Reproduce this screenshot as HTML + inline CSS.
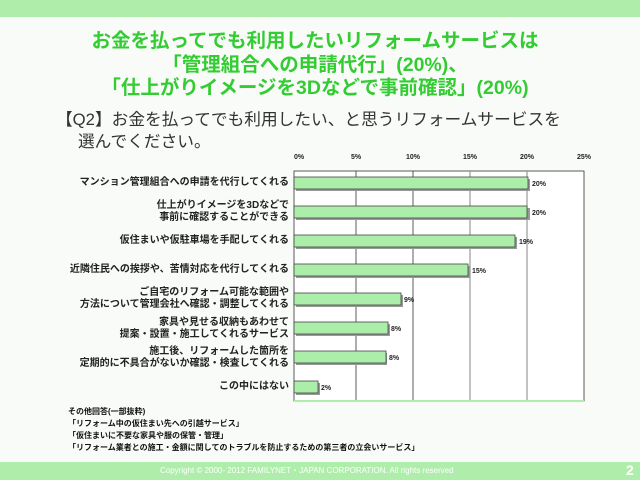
<!DOCTYPE html>
<html><head><meta charset="utf-8"><style>
body{margin:0;width:640px;height:480px;background:#f8fbf7;position:relative;overflow:hidden;font-family:"Liberation Sans","Noto Sans CJK JP",sans-serif}
.band{position:absolute;left:0;width:640px;background:#aeeeaa}
.t{position:absolute;white-space:nowrap}
.title{left:0;width:630px;text-align:center;color:#33cc33;font-size:19.5px;font-weight:bold;line-height:24px}
.lab{right:351px;text-align:right;font-size:10px;font-weight:bold;color:#222;line-height:12px}
.note{left:68px;font-size:8px;color:#111;font-weight:bold}
</style></head><body>
<div class="band" style="top:0;height:17px"></div>
<div class="band" style="top:462px;height:18px"></div>
<div class="t" style="left:160px;top:465px;font-size:8px;color:#fff">Copyright © 2000- 2012 FAMILYNET・JAPAN CORPORATION. All rights reserved</div>
<div class="t" style="left:626px;top:462px;font-size:14px;color:#fff;font-weight:bold">2</div>
<div class="t title" style="top:29px">お金を払ってでも利用したいリフォームサービスは</div>
<div class="t title" style="top:53px">「管理組合への申請代行」(20%)、</div>
<div class="t title" style="top:76px">「仕上がりイメージを3Dなどで事前確認」(20%)</div>
<div class="t" style="left:56px;top:106px;font-size:16.7px;color:#333">【Q2】お金を払ってでも利用したい、と思うリフォームサービスを</div>
<div class="t" style="left:78px;top:128px;font-size:16.7px;color:#333">選んでください。</div>
<svg width="640" height="480" style="position:absolute;left:0;top:0">
<g font-size="7" fill="#222" font-family="Liberation Sans" text-anchor="middle" font-weight="bold">
<text x="299" y="159">0%</text><text x="356" y="159">5%</text><text x="413" y="159">10%</text><text x="470" y="159">15%</text><text x="527" y="159">20%</text><text x="584" y="159">25%</text></g>
<rect x="294" y="171" width="290" height="230" fill="#fff" stroke="#333" stroke-width="0.8"/>
<g stroke="#333" stroke-width="0.8"><line x1="356" y1="171" x2="356" y2="401"/><line x1="413" y1="171" x2="413" y2="401"/></g>
<g stroke="#999" stroke-width="1.2"><line x1="470" y1="171" x2="470" y2="401"/><line x1="527" y1="171" x2="527" y2="401"/></g>
<line x1="294" y1="401" x2="584" y2="401" stroke="#aeeeaa" stroke-width="2"/>
<g fill="#999">
<rect x="296" y="179" width="234" height="12"/><rect x="296" y="208" width="234" height="12"/><rect x="296" y="237" width="221" height="12"/><rect x="296" y="266" width="174" height="12"/><rect x="296" y="295" width="107" height="12"/><rect x="296" y="324" width="94" height="12"/><rect x="296" y="353" width="91" height="12"/><rect x="296" y="383" width="24" height="12"/></g>
<g fill="#aaeeaa" stroke="#444" stroke-width="0.8">
<rect x="294" y="177" width="234" height="12"/><rect x="294" y="206" width="233" height="12"/><rect x="294" y="235" width="221" height="12"/><rect x="294" y="264" width="174" height="12"/><rect x="294" y="293" width="107" height="12"/><rect x="294" y="322" width="94" height="12"/><rect x="294" y="351" width="92" height="12"/><rect x="294" y="381" width="24" height="12"/></g>
<g font-size="7" fill="#222" font-weight="bold" font-family="Liberation Sans">
<text x="532" y="186">20%</text><text x="532" y="215">20%</text><text x="519" y="244">19%</text><text x="472" y="273">15%</text><text x="404" y="302">9%</text><text x="391" y="331">8%</text><text x="389" y="360">8%</text><text x="321" y="390">2%</text></g>
</svg>
<div class="t lab" style="top:177px">マンション管理組合への申請を代行してくれる</div>
<div class="t lab" style="top:200px">仕上がりイメージを3Dなどで<br>事前に確認することができる</div>
<div class="t lab" style="top:235px">仮住まいや仮駐車場を手配してくれる</div>
<div class="t lab" style="top:264px">近隣住民への挨拶や、苦情対応を代行してくれる</div>
<div class="t lab" style="top:287px">ご自宅のリフォーム可能な範囲や<br>方法について管理会社へ確認・調整してくれる</div>
<div class="t lab" style="top:317px">家具や見せる収納もあわせて<br>提案・設置・施工してくれるサービス</div>
<div class="t lab" style="top:346px">施工後、リフォームした箇所を<br>定期的に不具合がないか確認・検査してくれる</div>
<div class="t lab" style="top:381px">この中にはない</div>
<div class="t note" style="top:406px">その他回答(一部抜粋)</div>
<div class="t note" style="top:418px">「リフォーム中の仮住まい先への引越サービス」</div>
<div class="t note" style="top:430px">「仮住まいに不要な家具や服の保管・管理」</div>
<div class="t note" style="top:442px">「リフォーム業者との施工・金額に関してのトラブルを防止するための第三者の立会いサービス」</div>
</body></html>
